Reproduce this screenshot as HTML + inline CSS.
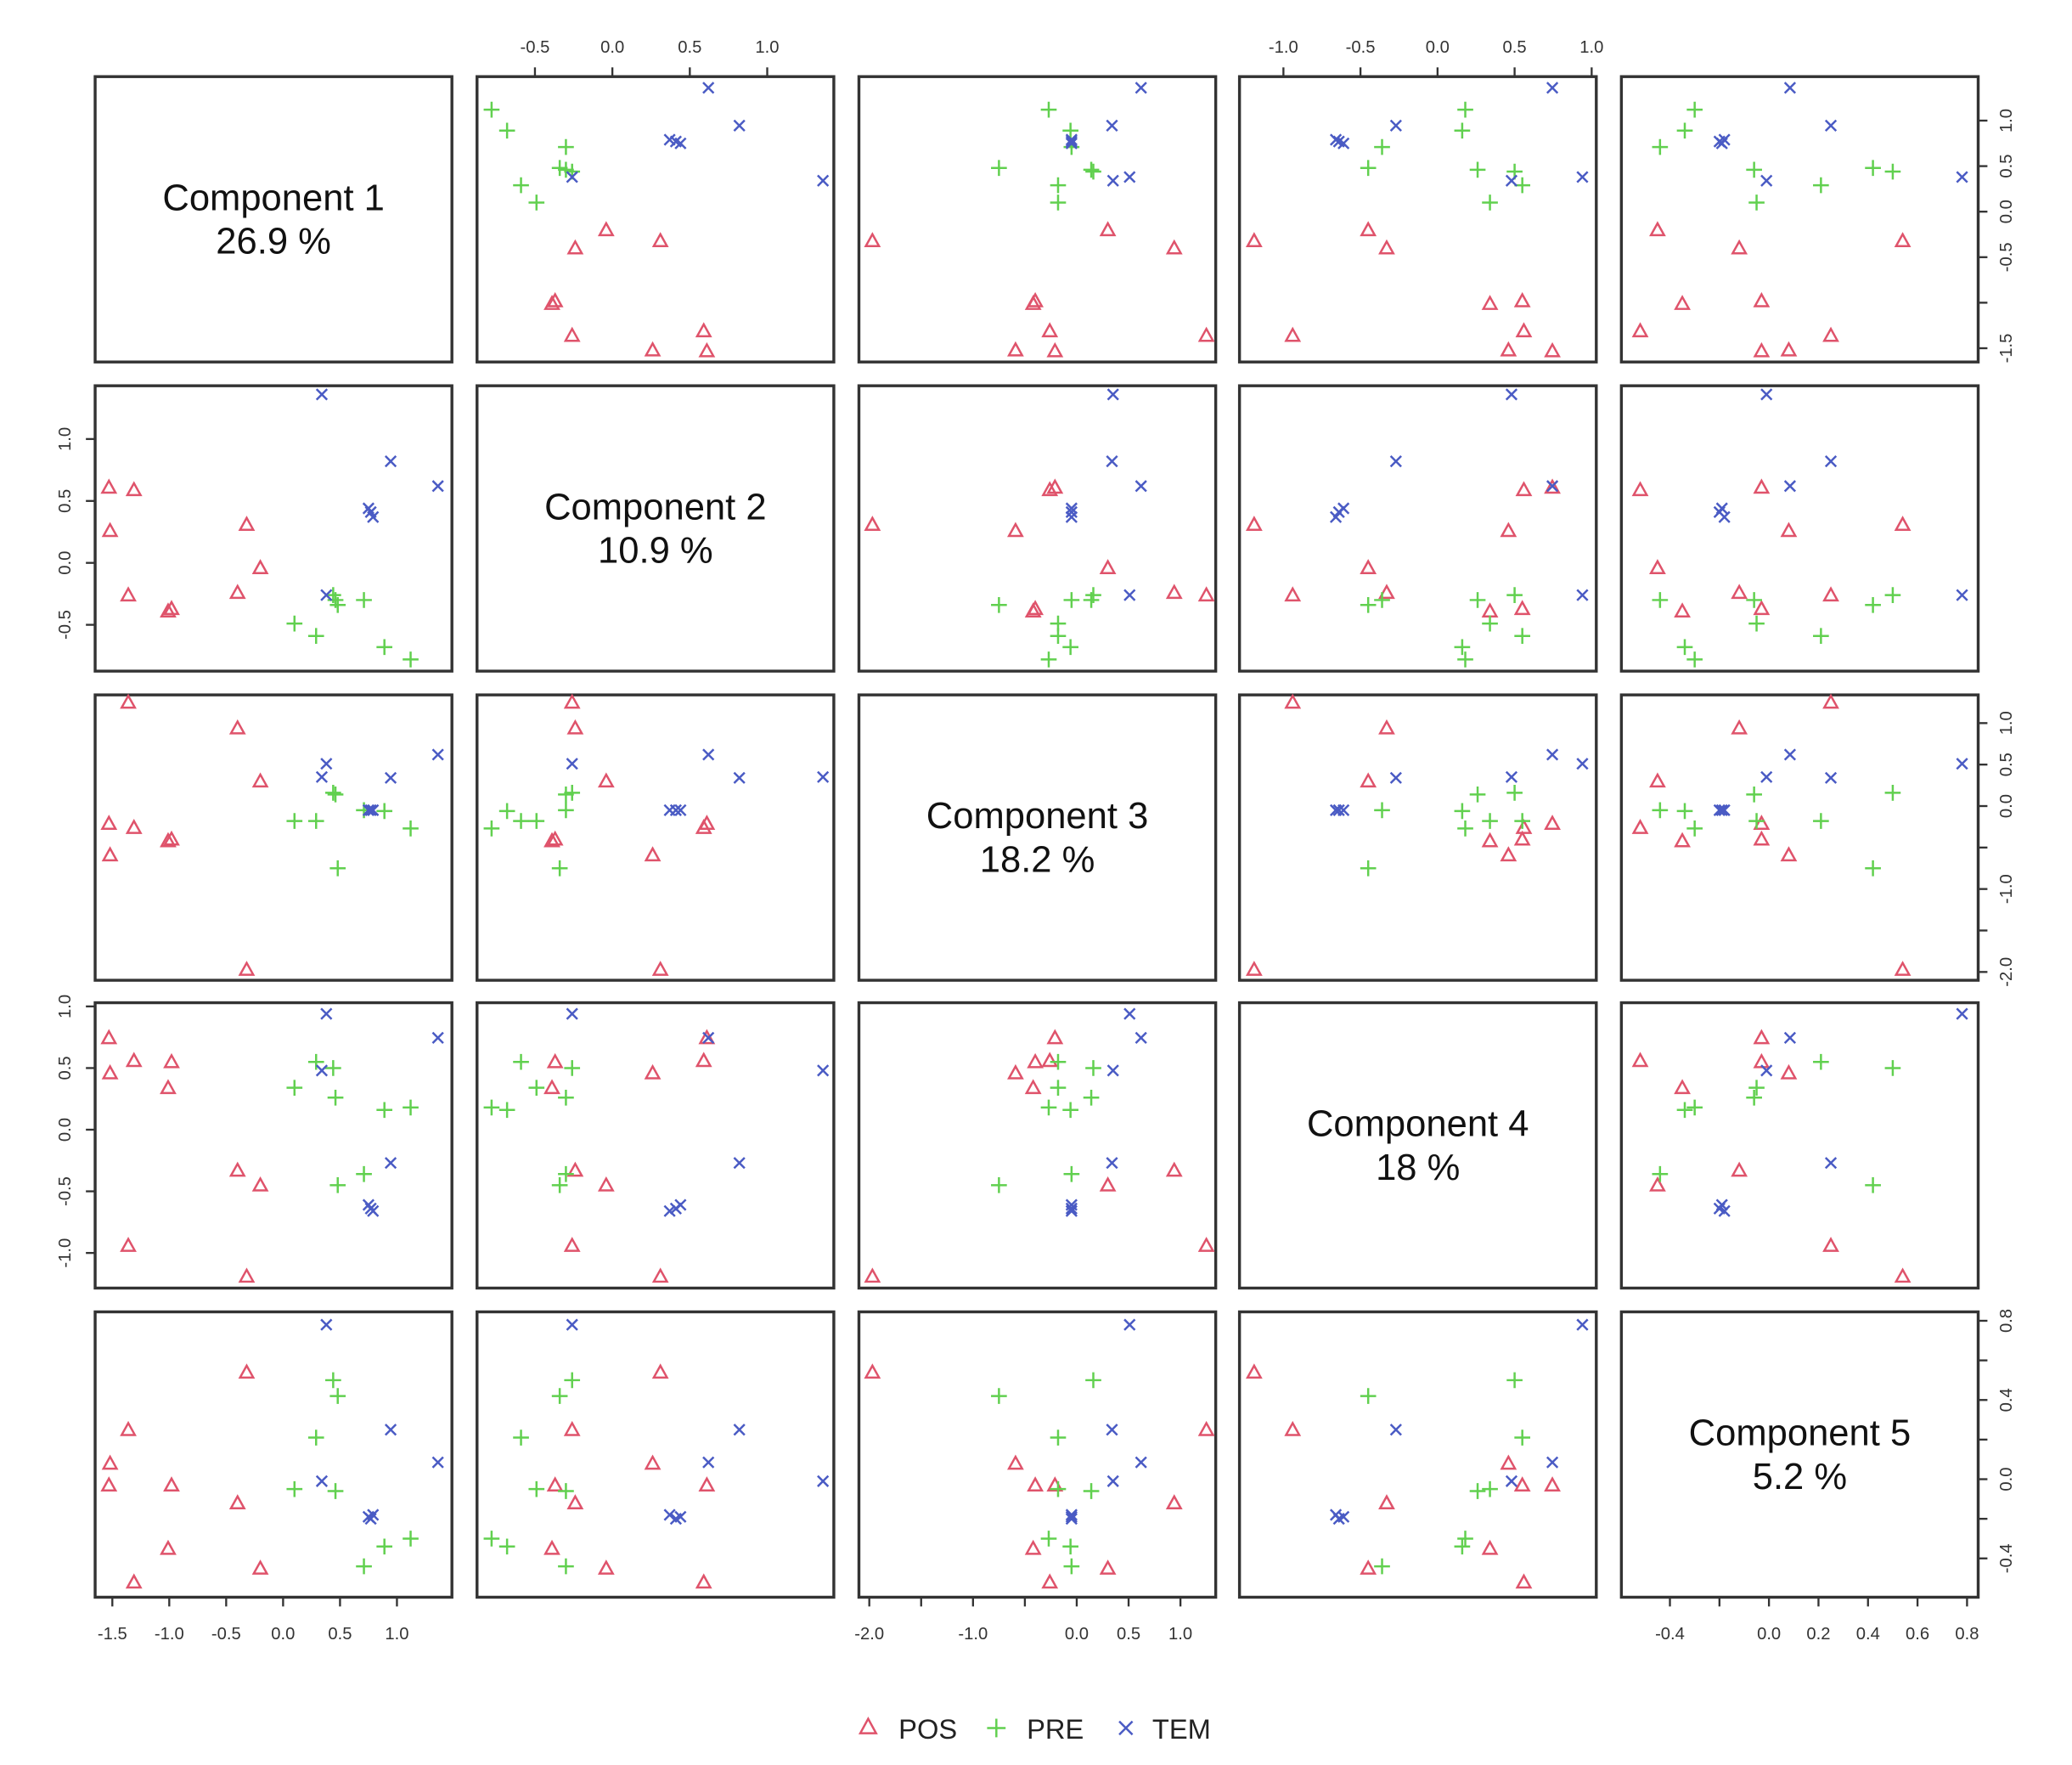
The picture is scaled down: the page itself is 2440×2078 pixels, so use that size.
<!DOCTYPE html>
<html><head><meta charset="utf-8"><style>
html,body{margin:0;padding:0;background:#fff;}
svg{display:block;}
text{font-family:"Liberation Sans",sans-serif;}
</style></head><body>
<svg id="chart" width="2440" height="2078" viewBox="0 0 1568 1336" preserveAspectRatio="none" xmlns="http://www.w3.org/2000/svg">
<rect x="0" y="0" width="1568" height="1336" fill="#fff"/>
<g id="panels"></g>
<g id="legend">
  <g>
    <path d="M651,1312 L657,1301 L663,1312 Z" fill="none" stroke="#DF536B" stroke-width="1.6"/>
    <text x="680" y="1316" font-size="21" fill="#222">POS</text>
  </g>
  <g>
    <path d="M747,1308 L761,1308 M754,1301 L754,1315" stroke="#61D04F" stroke-width="1.6"/>
    <text x="777" y="1316" font-size="21" fill="#222">PRE</text>
  </g>
  <g>
    <path d="M847,1303 L857,1313 M857,1303 L847,1313" stroke="#4a5bc4" stroke-width="1.6"/>
    <text x="872" y="1316" font-size="21" fill="#222">TEM</text>
  </g>
</g>
</svg>
<script>
const groups = ["POS","POS","POS","POS","POS","POS","POS","POS","POS","PRE","PRE","PRE","PRE","PRE","PRE","PRE","PRE","TEM","TEM","TEM","TEM","TEM","TEM","TEM"];
const comp1 = [-1.53,-1.31,-1.52,-1.36,-1.01,-0.98,-0.40,-0.32,-0.20, 0.10,0.29,0.44,0.46,0.48,0.71,0.89,1.12, 0.34,0.945,1.36,0.75,0.77,0.79,0.38];
const comp2 = [0.61,0.59,0.26,-0.26,-0.39,-0.37,-0.24,0.31,-0.04, -0.49,-0.59,-0.26,-0.30,-0.34,-0.30,-0.68,-0.78, 1.36,0.82,0.62,0.44,0.41,0.37,-0.26];
const comp3 = [-0.21,-0.26,-0.59,1.25,-0.42,-0.40,0.94,-1.97,0.30, -0.18,-0.18,0.16,0.14,-0.75,-0.05,-0.06,-0.27, 0.35,0.34,0.62,-0.05,-0.05,-0.05,0.51];
const comp4 = [0.745,0.56,0.46,-0.94,0.34,0.55,-0.33,-1.19,-0.45, 0.34,0.55,0.50,0.26,-0.45,-0.36,0.16,0.18, 0.48,-0.27,0.745,-0.61,-0.64,-0.66,0.94];
const comp5 = [-0.03,-0.52,0.08,0.25,-0.35,-0.03,-0.12,0.54,-0.45, -0.05,0.21,0.50,-0.06,0.42,-0.44,-0.34,-0.30, -0.01,0.25,0.085,-0.19,-0.20,-0.18,0.78];
const compNames = ["Component 1","Component 2","Component 3","Component 4","Component 5"];
const compPct = ["26.9 %","10.9 %","18.2 %","18 %","5.2 %"];
const tickVals = [[-1.5,-1.0,-0.5,0.0,0.5,1.0],[-0.5,0.0,0.5,1.0],[-2.0,-1.5,-1.0,-0.5,0.0,0.5,1.0],[-1.0,-0.5,0.0,0.5,1.0],[-0.4,-0.2,0.0,0.2,0.4,0.6,0.8]];
const xTickLabels = [["-1.5","-1.0","-0.5","0.0","0.5","1.0"],["-0.5","0.0","0.5","1.0"],["-2.0","","-1.0","","0.0","0.5","1.0"],["-1.0","-0.5","0.0","0.5","1.0"],["-0.4","","0.0","0.2","0.4","0.6","0.8"]];
const yTickLabels = [["-1.5","","-0.5","0.0","0.5","1.0"],["-0.5","0.0","0.5","1.0"],["-2.0","","-1.0","","0.0","0.5","1.0"],["-1.0","-0.5","0.0","0.5","1.0"],["-0.4","","0.0","","0.4","","0.8"]];

const comps = [comp1,comp2,comp3,comp4,comp5];
const ranges = [[-1.651,1.483],[-0.874,1.43],[-2.10,1.34],[-1.285,1.03],[-0.596,0.845]];
const colX = [72,361,650,938,1227], rowY = [58,292,526,759,993], PW = 270, PH = 216;
const colors = {POS:"#DF536B", PRE:"#61D04F", TEM:"#4a5bc4"};
const NS = "http://www.w3.org/2000/svg";
const root = document.getElementById("panels");
function mk(tag, attrs, parent){ const e=document.createElementNS(NS,tag); for(const k in attrs) e.setAttribute(k,attrs[k]); parent.appendChild(e); return e; }
function sx(c,v,col){ const r=ranges[c]; return colX[col] + (v-r[0])/(r[1]-r[0])*PW; }
function sy(c,v,row){ const r=ranges[c]; return rowY[row] + PH - (v-r[0])/(r[1]-r[0])*PH; }

for(let row=0; row<5; row++){
  for(let col=0; col<5; col++){
    const g = mk("g",{},root);
    
    
    const border = mk("rect",{x:colX[col],y:rowY[row],width:PW,height:PH,fill:"none",stroke:"#333","stroke-width":2.2},g);
    
    
    if(row===col){
      const cx = colX[col]+PW/2, cy = rowY[row]+PH/2;
      const t1 = mk("text",{x:cx,y:cy-7,"text-anchor":"middle","font-size":28,fill:"#111"},g);
      t1.textContent = compNames[row];
      
      
      const t2 = mk("text",{x:cx,y:cy+26,"text-anchor":"middle","font-size":28,fill:"#111"},g);
      t2.textContent = compPct[row];
      
      
      continue;
    }
    const xs = comps[col], ys = comps[row];
    for(let i=0;i<groups.length;i++){
      const x = sx(col,xs[i],col), y = sy(row,ys[i],row), c = colors[groups[i]];
      let d;
      if(groups[i]==="POS") d = `M${x-5},${y+4} L${x},${y-5} L${x+5},${y+4} Z`;
      else if(groups[i]==="PRE") d = `M${x-6},${y} L${x+6},${y} M${x},${y-6} L${x},${y+6}`;
      else d = `M${x-4},${y-4} L${x+4},${y+4} M${x+4},${y-4} L${x-4},${y+4}`;
      const p = mk("path",{d:d,fill:"none",stroke:c,"stroke-width":1.6},g);
      
      
    }
  }
}
for(let col=0; col<5; col++){
  const top = (col%2===1);
  const ax = mk("g",{},root);
  
  
  const yb = top ? rowY[0] : rowY[4]+PH;
  const dir = top ? -1 : 1;
  const tv = tickVals[col];
  mk("line",{x1:sx(col,tv[0],col),x2:sx(col,tv[tv.length-1],col),y1:yb,y2:yb,stroke:"#333","stroke-width":1.5},ax);
  tv.forEach((v,k)=>{
    const x = sx(col,v,col);
    mk("line",{x1:x,x2:x,y1:yb,y2:yb+dir*7,stroke:"#333","stroke-width":1.5},ax);
    const lab = xTickLabels[col][k];
    if(lab){
      const t = mk("text",{x:x,y:top? yb-18 : yb+32,"text-anchor":"middle","font-size":13,fill:"#333"},ax);
      t.textContent = lab;
      
      
    }
  });
}
for(let row=0; row<5; row++){
  const left = (row%2===1);
  const ax = mk("g",{},root);
  
  
  const xb = left ? colX[0] : colX[4]+PW;
  const dir = left ? -1 : 1;
  const tv = tickVals[row];
  mk("line",{x1:xb,x2:xb,y1:sy(row,tv[0],row),y2:sy(row,tv[tv.length-1],row),stroke:"#333","stroke-width":1.5},ax);
  tv.forEach((v,k)=>{
    const y = sy(row,v,row);
    mk("line",{x1:xb,x2:xb+dir*7,y1:y,y2:y,stroke:"#333","stroke-width":1.5},ax);
    const lab = yTickLabels[row][k];
    if(lab){
      const tx = left ? xb-22 : xb+22;
      const t = mk("text",{x:tx,y:y,"text-anchor":"middle","font-size":13,fill:"#333",transform:`rotate(-90 ${tx} ${y})`,"dominant-baseline":"middle"},ax);
      t.textContent = lab;
      
      
    }
  });
}
</script>
</body></html>
